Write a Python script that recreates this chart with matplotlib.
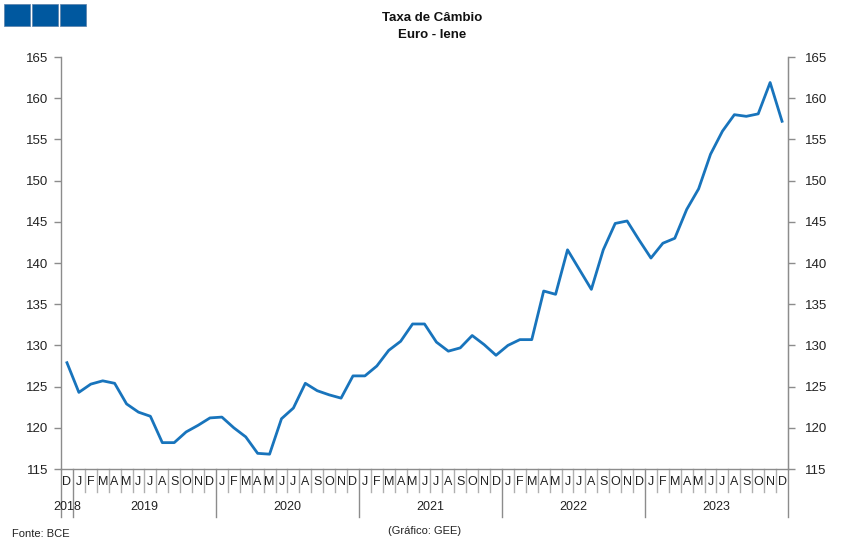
import matplotlib
matplotlib.use("Agg")
import matplotlib.pyplot as plt
from matplotlib.patches import Rectangle
import matplotlib.transforms as mtransforms

plt.rcParams['font.family'] = ['Liberation Sans', 'DejaVu Sans']

# ---- data ----
month_labels = ["D"] + ["J", "F", "M", "A", "M", "J", "J", "A", "S", "O", "N", "D"] * 5
years = ["2018", "2019", "2020", "2021", "2022", "2023"]
values = [
    127.9,
    124.3, 125.3, 125.7, 125.4, 122.9, 121.9, 121.4, 118.2, 118.2, 119.5, 120.3, 121.2,
    121.3, 120.0, 118.9, 116.9, 116.8, 121.1, 122.4, 125.4, 124.5, 124.0, 123.6, 126.3,
    126.3, 127.5, 129.4, 130.5, 132.6, 132.6, 130.4, 129.3, 129.7, 131.2, 130.1, 128.8,
    130.0, 130.7, 130.7, 136.6, 136.2, 141.6, 139.2, 136.8, 141.6, 144.8, 145.1, 142.8,
    140.6, 142.4, 143.0, 146.5, 149.0, 153.2, 156.0, 158.0, 157.8, 158.1, 161.9, 157.2,
]
yticks = [115, 120, 125, 130, 135, 140, 145, 150, 155, 160, 165]

W, H = 850, 554
fig = plt.figure(figsize=(W / 100, H / 100), dpi=100)
L, R, T, B = 61, 788, 57, 469
ax = fig.add_axes([L / W, 1 - B / H, (R - L) / W, (B - T) / H])

n = len(values)
xs = [i + 0.5 for i in range(n)]
ax.plot(xs, values, color="#1874BC", lw=2.0, solid_joinstyle="round")

ax.set_xlim(0, n)
ax.set_ylim(115, 165)
ax.set_yticks(yticks)
ax.set_xticks([])

gray = "#8c8c8c"
ax.spines["top"].set_visible(False)
for s in ["left", "right", "bottom"]:
    ax.spines[s].set_color(gray)
    ax.spines[s].set_linewidth(1.0)

ax.tick_params(axis="y", direction="out", length=5, width=1,
               color=gray, labelsize=9.5, labelcolor="#222222", pad=4,
               left=True, right=False, labelleft=True, labelright=False)

ax2 = ax.twinx()
ax2.set_ylim(115, 165)
ax2.set_yticks(yticks)
for s in ["top", "left", "bottom"]:
    ax2.spines[s].set_visible(False)
ax2.spines["right"].set_color(gray)
ax2.tick_params(axis="y", direction="out", length=5, width=1,
                color=gray, labelsize=9.5, labelcolor="#222222", pad=7)

trans = mtransforms.blended_transform_factory(ax.transData, ax.transAxes)
h = B - T
month_len = -23 / h
year_len = -48 / h

# month separators and letters
for i in range(n + 1):
    is_year = (i == 0) or (i == n) or ((i - 1) % 12 == 0)
    y1 = year_len if is_year else month_len
    ax.plot([i, i], [0, y1], transform=trans, color=gray if is_year else "#b0b0b0",
            lw=1.0, clip_on=False)
for i, m in enumerate(month_labels):
    ax.text(i + 0.5, -13 / h, m, transform=trans, ha="center", va="center",
            fontsize=9, color="#222222")

# year labels
year_centers = [0.5] + [1 + 12 * k + 6 for k in range(5)]
for xc, yr in zip(year_centers, years):
    ax.text(xc, -38 / h, yr, transform=trans, ha="center", va="center",
            fontsize=9, color="#222222")

# title
fig.text(432 / W, 1 - 18 / H, "Taxa de Câmbio", ha="center", va="center",
         fontsize=9.5, fontweight="bold", color="#111111")
fig.text(432 / W, 1 - 35 / H, "Euro - Iene", ha="center", va="center",
         fontsize=9.5, fontweight="bold", color="#111111")

# logo squares
for x0 in [4, 32, 60]:
    fig.patches.append(Rectangle((x0 / W, 1 - 26 / H), 26 / W, 22 / H,
                                 transform=fig.transFigure, facecolor="#00589F",
                                 edgecolor="#5a7fa8", lw=0.5))

# footer
fig.text(12 / W, 1 - 534 / H, "Fonte: BCE", ha="left", va="center",
         fontsize=8, color="#222222")
fig.text(425 / W, 1 - 531 / H, "(Gráfico: GEE)", ha="center", va="center",
         fontsize=8, color="#222222")

fig.savefig("out.png", dpi=100)
